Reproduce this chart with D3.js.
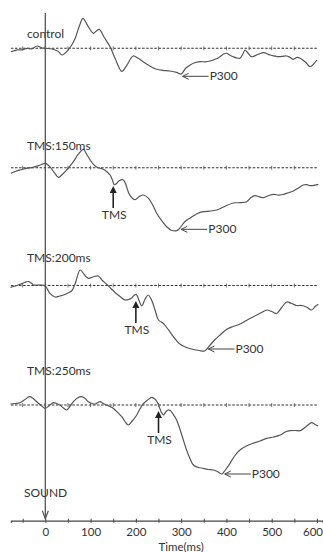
<!DOCTYPE html>
<html>
<head>
<meta charset="utf-8">
<script src="https://cdn.jsdelivr.net/npm/d3@7"></script>
<style>
  body { margin: 0; background: #fff; }
  svg { display: block; }
  text { font-family: Lato, "Open Sans", sans-serif; fill: #333; }
</style>
</head>
<body>
<div id="graph"></div>
<script>
// ---- data (time in ms, amplitude in arbitrary units, up = positive) ----
const panelNames = ["control", "TMS:150ms", "TMS:200ms", "TMS:250ms"];

const control = [[-76,-3.5],[-62,-1.5],[-50,-1.5],[-40,0],[-30,-0.5],[-18,2.3],[-8,0.5],[0,0],[15,-0.7],[28,-3],[37,-6.7],[50,-2],[58,3],[66,10],[75,22],[83,30],[92,24],[106,15],[112,17],[119,19],[130,11],[143,1.6],[155,-11],[169,-23],[180,-17],[194,-7.7],[205,-10],[216,-13.4],[230,-17.5],[246,-21],[260,-22],[275,-22.7],[290,-24],[300,-25.7],[310,-20],[320,-16.7],[330,-14.5],[342,-13.4],[353,-13.5],[364,-12.7],[375,-11],[386,-8.4],[395,-5.5],[401,-5],[408,-7],[415,-8.4],[422,-9.5],[430,-10],[436,-6],[441,-1.7],[448,-5],[456,-8.4],[470,-6],[482,-4.4],[496,-6.7],[505,-7.5],[515,-8.4],[533,-7.7],[540,-9],[548,-11],[556,-9],[563,-10],[575,-14],[585,-18.4],[592,-16],[600,-11.7]];

const tms150 = [[-76,-5.6],[-65,-3.5],[-56,-2.3],[-40,-0.5],[-27,0.4],[-12,2.5],[0,4.4],[10,1],[20,-5],[29,-9.6],[38,-6.5],[47,-2.3],[55,2],[62,6],[72,13],[84,18.4],[92,13],[99,7.7],[107,3],[114,0.4],[121,-0.5],[128,-1.6],[136,-4],[143,-7.3],[148,-12],[152,-17],[157,-16],[163,-13],[172,-12],[178,-17],[186,-27],[198,-32],[207,-29],[216,-27.3],[228,-30.6],[238,-38],[246,-45.6],[257,-53],[268,-59],[278,-62.5],[290,-63],[297,-60.5],[308,-54],[320,-50.3],[335,-46],[349,-44],[362,-43.5],[379,-42.3],[395,-39],[415,-35.3],[430,-35],[445,-34],[454,-30],[463,-28],[472,-29],[482,-30],[493,-28],[504,-26.6],[515,-27.5],[526,-26.6],[537,-25],[548,-23.3],[560,-20],[570,-17.3],[578,-17],[585,-18],[595,-17.5],[603,-16.6]];

const tms200 = [[-77,-1.8],[-66,-0.5],[-56,1.2],[-46,3],[-37,4],[-30,2],[-26,0.5],[-10,0.5],[0,-0.5],[10,-7.8],[22,-11.5],[32,-10.5],[40,-9.5],[50,-7.5],[58,-5.5],[66,2],[77,15.5],[86,11],[95,7.2],[105,8.5],[117,9.5],[126,5],[135,1.5],[145,-3],[154,-7],[165,-11],[176,-14.5],[184,-14],[190,-12.8],[197,-9.5],[201,-9],[207,-15],[213,-20.5],[220,-14],[227,-9.5],[233,-13],[238,-18.5],[244,-27],[250,-34.5],[261,-38],[268,-42],[275,-46.2],[286,-53],[297,-58.5],[312,-62],[327,-64],[340,-65],[352,-65.5],[358,-63],[364,-59.5],[375,-54],[386,-49.5],[400,-44],[415,-41],[430,-38.5],[448,-34],[467,-29.5],[478,-27],[489,-24.5],[500,-26],[511,-28],[522,-22],[533,-16.5],[544,-18],[555,-20],[566,-20],[577,-21.5],[588,-24.5],[596,-21],[603,-18.8]];

const tms250 = [[-77,1],[-66,1.5],[-56,2.3],[-45,5.5],[-35,8.3],[-27,6.5],[-19,3.3],[-8,-1],[0,-3.3],[9,-0.5],[18,2.3],[25,1.5],[32,0],[40,-3],[47,-5],[55,-1],[62,3.3],[71,7],[80,8.3],[88,6.5],[95,3.3],[103,1.5],[110,1],[116,2.5],[121,3.3],[128,1.5],[135,0],[143,-1.5],[150,-3.3],[160,-7.5],[169,-11.7],[176,-16.5],[183,-20],[192,-16],[202,-10],[209,-4],[216,1],[226,5],[235,7.7],[242,6],[247,3],[251,-1],[256,-7],[261,-10],[266,-7],[271,-5],[276,-5.5],[282,-9],[290,-15],[300,-28],[312,-45],[320,-54],[327,-60],[338,-62.5],[349,-63.3],[360,-64.5],[371,-65],[380,-66.5],[390,-69],[396,-66],[408,-58.3],[418,-51],[430,-45],[444,-41],[459,-38.3],[474,-36],[489,-33.3],[504,-32],[519,-30],[530,-27],[541,-25.7],[552,-25.5],[563,-25.7],[575,-22],[588,-17.7],[596,-19.5],[603,-21]];

const series = [control, tms150, tms200, tms250];

const tmsTimes = [null, 150, 200, 250];
const tmsTipAmp = [null, -18.3, -15.5, -6];

const p300Times = [300, 297, 357, 393];
const p300Amp = [-28, -61.6, -63.5, -69];

const tickValues = [-50, 0, 50, 100, 150, 200, 250, 300, 350, 400, 450, 500, 550, 600];
const tickLabels = [0, 100, 200, 300, 400, 500, 600];

// ---- layout ----
const width = 323, height = 552;
const panelBase = [48.3, 167.7, 285.5, 405];
const labelY = [37.5, 149.5, 262, 374.5];
const axisY = 520.7;

const svg = d3.select("#graph").append("svg")
  .attr("width", width)
  .attr("height", height);

const x = d3.scaleLinear().domain([-76, 612]).range([10.9, 322.4]);

let line = d3.line().curve(d3.curveCatmullRom.alpha(0.5));

series.forEach(function(data, i) {
  let base = panelBase[i];
  let y = d3.scaleLinear().domain([-10, 10]).range([base + 10, base - 10]);
  let g = svg.append("g").attr("class", "panel");

  // dashed baseline
  g.append("line")
    .attr("x1", x(-76)).attr("x2", x(600))
    .attr("y1", y(0)).attr("y2", y(0))
    .attr("stroke", "#333")
    .attr("stroke-width", 1.1)
    .attr("stroke-dasharray", "2.5,1.6");

  g.selectAll(".btick")
    .data(tickValues.filter(d => d < 600))
    .enter().append("line")
    .attr("class", "btick")
    .attr("x1", d => x(d)).attr("x2", d => x(d))
    .attr("y1", y(0) - 2).attr("y2", y(0) + 2)
    .attr("stroke", "#555")
    .attr("stroke-width", 0.8);

  // trace
  g.append("path")
    .datum(data)
    .attr("fill", "none")
    .attr("stroke", "#555")
    .attr("stroke-width", 1.2)
    .attr("d", line.x(d => x(d[0])).y(d => y(d[1])));

  // panel label
  g.append("text")
    .attr("x", 27)
    .attr("y", labelY[i])
    .style("font-size", "12px")
    .text(panelNames[i]);

  // TMS arrow
  if (tmsTimes[i] != null) {
    let tx = x(tmsTimes[i]);
    let tip = y(tmsTipAmp[i]);
    g.append("line")
      .attr("x1", tx).attr("x2", tx)
      .attr("y1", tip + 5).attr("y2", tip + 22)
      .attr("stroke", "#222")
      .attr("stroke-width", 1.6);
    g.append("path")
      .attr("d", `M${tx},${tip}L${tx - 3.5},${tip + 7}L${tx + 3.5},${tip + 7}Z`)
      .attr("fill", "#222");
    g.append("text")
      .attr("x", tx + 1)
      .attr("y", tip + 33)
      .attr("text-anchor", "middle")
      .style("font-size", "12px")
      .text("TMS");
  }

  // P300 arrow
  let px = x(p300Times[i]) + 1.5;
  let py = y(p300Amp[i]);
  g.append("line")
    .attr("x1", px).attr("x2", px + 26)
    .attr("y1", py).attr("y2", py)
    .attr("stroke", "#444")
    .attr("stroke-width", 1);
  g.append("path")
    .attr("d", `M${px + 6},${py - 3}L${px},${py}L${px + 6},${py + 3}`)
    .attr("fill", "none")
    .attr("stroke", "#444")
    .attr("stroke-width", 1);
  g.append("text")
    .attr("x", px + 27)
    .attr("y", py + 4)
    .style("font-size", "12px")
    .text("P300");
});

// stimulus line at 0 ms
svg.append("line")
  .attr("x1", x(0)).attr("x2", x(0))
  .attr("y1", 13).attr("y2", axisY - 2)
  .attr("stroke", "#555")
  .attr("stroke-width", 1.3);
svg.append("path")
  .attr("d", `M${x(0) - 3},${axisY - 10}L${x(0)},${axisY - 2}L${x(0) + 3},${axisY - 10}`)
  .attr("fill", "none")
  .attr("stroke", "#555")
  .attr("stroke-width", 1.2);

svg.append("text")
  .attr("x", 24)
  .attr("y", 497)
  .style("font-size", "12px")
  .text("SOUND");

// x axis
let xAxis = d3.axisBottom(x)
  .tickValues(tickValues)
  .tickSizeOuter(0)
  .tickSize(2)
  .tickFormat(d => tickLabels.indexOf(d) >= 0 ? d : "");

let ax = svg.append("g")
  .attr("transform", `translate(0,${axisY})`)
  .call(xAxis);

ax.select(".domain").attr("stroke", "#444").attr("stroke-width", 1.2);
ax.selectAll(".tick line").attr("y1", -2).attr("y2", 2).attr("stroke", "#444");
ax.selectAll(".tick text")
  .attr("y", 15.5)
  .attr("dy", null)
  .style("font-family", "Lato, 'Open Sans', sans-serif")
  .style("font-size", "11.5px")
  .attr("fill", "#333");

// keep the last label inside the picture
ax.selectAll(".tick text")
  .filter(d => d === 600)
  .attr("text-anchor", "end")
  .attr("x", 322.5 - x(600));

svg.append("text")
  .attr("x", x(300))
  .attr("y", 551)
  .attr("text-anchor", "middle")
  .style("font-size", "11.5px")
  .text("Time(ms)");
</script>
</body>
</html>
